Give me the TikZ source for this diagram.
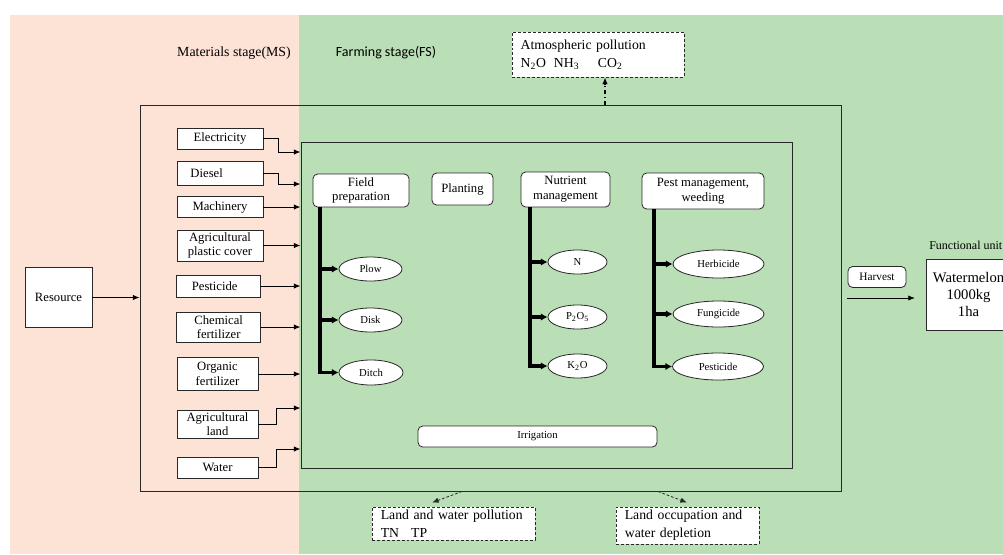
\documentclass[tikz,border=0pt]{standalone}
\usepackage{fontspec}
\setmainfont{Liberation Serif}
\newfontfamily\carlitofont{Carlito}
\usetikzlibrary{arrows.meta,shapes.geometric}
\definecolor{pinkbg}{RGB}{253,226,214}
\definecolor{greenbg}{RGB}{186,222,181}
\definecolor{linec}{RGB}{40,40,40}
\begin{document}
\begin{tikzpicture}[x=0.75pt,y=-0.75pt,
 sz/.style 2 args={minimum width=#1*0.75pt,minimum height=#2*0.75pt},
 box/.style={draw=linec,fill=white,inner sep=0pt,align=center,line width=0.6pt},
 mat/.style={box,font=\fontsize{9.5}{11}\selectfont},
 rbox/.style={box,rounded corners=3.5pt,font=\fontsize{9.5}{11}\selectfont},
 ell/.style={ellipse,draw=linec,fill=white,inner sep=0pt,line width=0.6pt,font=\fontsize{8}{9}\selectfont},
 frame/.style={draw=linec,line width=0.7pt,inner sep=0pt},
 dbox/.style={draw=linec,fill=white,line width=0.6pt,dash pattern=on 2.2pt off 1.5pt,inner ysep=0pt,inner xsep=6.5pt,align=left,font=\fontsize{10.3}{13.5}\selectfont},
 arr/.style={-{Latex[length=5pt,width=4pt]},line width=0.7pt,draw=black},
 brarr/.style={-{Latex[length=5pt,width=5.5pt]},line width=2.4pt,draw=black,line join=miter},
 darr/.style={-{Latex[length=5pt,width=4pt]},line width=0.6pt,draw=linec,dash pattern=on 2pt off 1.5pt},
 ddarr/.style={-{Latex[length=5pt,width=4pt]},line width=0.8pt,draw=black,dash pattern=on 3pt off 2pt on 0.8pt off 2pt}
]
\clip (0,0) rectangle (1003,554);
\fill[white] (0,0) rectangle (1003,554);
\fill[pinkbg] (10,15) rectangle (299,554);
\fill[greenbg] (299,15) rectangle (1003,554);

% stage labels
\node[font=\fontsize{10.4}{12}\selectfont] (ms) at (234,53) {Materials stage(MS)};
\node[font=\carlitofont\fontsize{10.5}{12}\selectfont] (fs) at (386,53) {Farming stage(FS)};

% frames
\node[frame,sz={701}{386}] (outer) at (490.5,298) {};
\node[frame,sz={491}{326}] (inner) at (546.5,305) {};

% resource
\node[box,sz={67}{60},font=\fontsize{9.5}{11}\selectfont] (res) at (58.5,297.5) {Resource};
\draw[arr] (res.east) -- (outer.west |- res.east);

% materials
\node[mat,sz={86}{21}] (elec) at (220,138.5) {Electricity};
\node[mat,sz={86}{24}] (dies) at (220,173) {Diesel\hspace*{20pt}};
\node[mat,sz={86}{21}] (mach) at (220,207) {Machinery};
\node[mat,sz={86}{31}] (plas) at (220,245.5) {Agricultural\\plastic cover};
\node[mat,sz={84}{22}] (pest) at (218.7,286) {Pesticide\hspace*{6pt}};
\node[mat,sz={84}{30}] (chem) at (218.7,327) {Chemical\\fertilizer};
\node[mat,sz={81}{33}] (org) at (217.5,374) {Organic\\fertilizer};
\node[mat,sz={81}{28}] (land) at (217.5,424) {Agricultural\\land};
\node[mat,sz={81}{21}] (wat) at (217.5,467.5) {Water};

\draw[arr] (elec.east) -- ++(15,0) |- (inner.west |- 0,152);
\draw[arr] (dies.east) -- ++(15,0) |- (inner.west |- 0,184);
\draw[arr] (mach.east) -- (inner.west |- mach.east);
\draw[arr] (plas.east) -- (inner.west |- plas.east);
\draw[arr] (pest.east) -- (inner.west |- pest.east);
\draw[arr] (chem.east) -- (inner.west |- chem.east);
\draw[arr] (org.east) -- (inner.west |- org.east);
\draw[arr] (land.east) -- ++(18,0) |- (inner.west |- 0,408);
\draw[arr] (wat.east) -- ++(18,0) |- (inner.west |- 0,449);

% processes
\node[rbox,sz={96}{33}] (fp) at (361,190.5) {Field\\preparation};
\node[rbox,sz={61}{32}] (plant) at (462.5,189) {Planting};
\node[rbox,sz={89}{35}] (nut) at (565.5,189.5) {Nutrient\\management};
\node[rbox,sz={122}{36}] (pm) at (703,191) {Pest management,\\weeding};
\node[rbox,sz={239}{21},font=\fontsize{8}{9}\selectfont] (irr) at (537.5,436.5) {Irrigation};

\node[ell,sz={63}{24}] (plow) at (370.5,269) {Plow};
\node[ell,sz={63}{24}] (disk) at (370.5,320) {Disk};
\node[ell,sz={64}{25}] (ditch) at (371,372.5) {Ditch};
\node[ell,sz={59}{24}] (n) at (577.5,262) {N};
\node[ell,sz={59}{24}] (p) at (577.5,317) {P\textsubscript{2}O\textsubscript{5}};
\node[ell,sz={59}{24}] (k) at (577.5,366) {K\textsubscript{2}O};
\node[ell,sz={91}{28}] (herb) at (718.5,264) {Herbicide};
\node[ell,sz={91}{26}] (fung) at (718.5,314) {Fungicide};
\node[ell,sz={91}{27}] (pest2) at (718,366.5) {Pesticide};

\draw[brarr] (fp.south -| 320,0) |- (ditch.west);
\draw[brarr] (plow.west -| 320,0) -- (plow.west);
\draw[brarr] (disk.west -| 320,0) -- (disk.west);
\draw[brarr] (nut.south -| 530,0) |- (k.west);
\draw[brarr] (n.west -| 530,0) -- (n.west);
\draw[brarr] (p.west -| 530,0) -- (p.west);
\draw[brarr] (pm.south -| 654,0) |- (pest2.west);
\draw[brarr] (herb.west -| 654,0) -- (herb.west);
\draw[brarr] (fung.west -| 654,0) -- (fung.west);

% output
\node[rbox,sz={58}{21},font=\fontsize{8.5}{10}\selectfont] (harv) at (877,277) {Harvest};
\node[box,sz={85}{71},font=\fontsize{11}{12.5}\selectfont] (wm) at (968.5,294.5) {Watermelon\\1000kg\\1ha};
\node[anchor=west,inner sep=0pt,font=\fontsize{9}{11}\selectfont] (fu) at (929,245) {Functional unit};
\draw[arr,shorten <=4pt,shorten >=8pt] (outer.east |- 0,298) -- (wm.west |- 0,298);

% emissions
\node[dbox,sz={172}{45},text width=116pt] (atm) at (598,54.5) {Atmospheric pollution\\N\textsubscript{2}O\hspace{6pt}NH\textsubscript{3}\hspace{14pt}CO\textsubscript{2}};
\draw[ddarr] (outer.north -| 605,0) -- (atm.south -| 605,0);

\node[dbox,sz={163}{33},text width=109pt] (lwp) at (453.5,523.5) {Land and water pollution\\TN\hspace{9pt}TP};
\node[dbox,sz={143}{37},text width=94pt] (loc) at (687.5,525.5) {Land occupation and\\water depletion};
\draw[darr] (outer.south -| 462,0) -- ([yshift=3pt]lwp.north -| 432,0);
\draw[darr] (outer.south -| 658,0) -- ([yshift=3pt]loc.north -| 687,0);
\end{tikzpicture}
\end{document}
